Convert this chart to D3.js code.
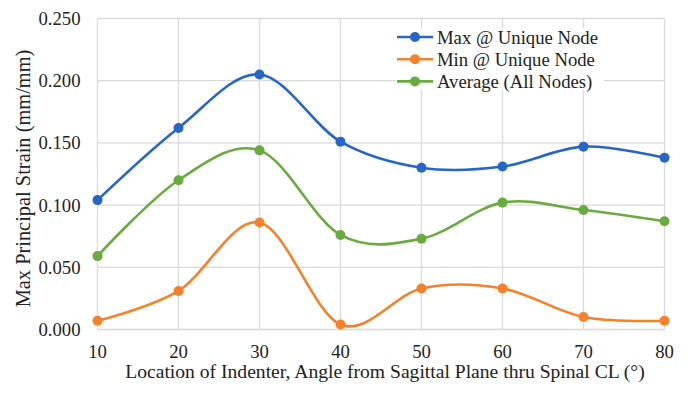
<!DOCTYPE html>
<html>
<head>
<meta charset="utf-8">
<script src="https://cdn.jsdelivr.net/npm/d3@7"></script>
<style>
  body { margin: 0; background: #fff; }
</style>
</head>
<body>
<div id="chart"></div>
<script>
// angle of indenter (deg)
const angles = [10, 20, 30, 40, 50, 60, 70, 80];
const maxNode = [0.104, 0.162, 0.205, 0.151, 0.130, 0.131, 0.147, 0.138];
const minNode = [0.007, 0.031, 0.086, 0.004, 0.033, 0.033, 0.010, 0.007];
const avgNodes = [0.059, 0.120, 0.144, 0.076, 0.073, 0.102, 0.096, 0.087];
const seriesNames = ['Max @ Unique Node', 'Min @ Unique Node', 'Average (All Nodes)'];
const yTicks = [0, 0.05, 0.1, 0.15, 0.2, 0.25];

const colors = ['#2566c7', '#f5822a', '#6aab3f'];
const W = 688, H = 393;
const margin = {top: 18.5, right: 23.5, bottom: 63.5, left: 97.5};
const FONT = "'Liberation Serif'";

const svg = d3.select('#chart').append('svg')
  .attr('width', W)
  .attr('height', H);

const x = d3.scaleLinear().domain([10, 80]).range([margin.left, W - margin.right]);
const y = d3.scaleLinear().domain([0, 0.25]).range([H - margin.bottom, margin.top]);

// grid
svg.append('g').selectAll('line.h')
  .data(yTicks)
  .enter().append('line')
  .attr('x1', margin.left).attr('x2', W - margin.right)
  .attr('y1', d => y(d)).attr('y2', d => y(d))
  .attr('stroke', '#d9d9d9').attr('stroke-width', 1.3);
svg.append('g').selectAll('line.v')
  .data(angles)
  .enter().append('line')
  .attr('y1', margin.top).attr('y2', H - margin.bottom)
  .attr('x1', d => x(d)).attr('x2', d => x(d))
  .attr('stroke', '#d9d9d9').attr('stroke-width', 1.3);

// tick labels
svg.append('g').selectAll('text')
  .data(yTicks)
  .enter().append('text')
  .attr('x', margin.left - 17)
  .attr('y', d => y(d))
  .attr('dy', '0.35em')
  .attr('text-anchor', 'end')
  .attr('font-family', FONT)
  .attr('font-size', 18.7)
  .attr('fill', '#222')
  .text(d => d3.format('.3f')(d));
svg.append('g').selectAll('text')
  .data(angles)
  .enter().append('text')
  .attr('x', d => x(d))
  .attr('y', H - margin.bottom + 28.5)
  .attr('text-anchor', 'middle')
  .attr('font-family', FONT)
  .attr('font-size', 18.7)
  .attr('fill', '#222')
  .text(d => d);

// axis titles
svg.append('text')
  .attr('x', 385)
  .attr('y', 378)
  .attr('text-anchor', 'middle')
  .attr('font-family', FONT)
  .attr('font-size', 19.6)
  .attr('fill', '#222')
  .text('Location of Indenter, Angle from Sagittal Plane thru Spinal CL (°)');
svg.append('text')
  .attr('transform', 'translate(' + 30 + ',' + 178.5 + ') rotate(-90)')
  .attr('text-anchor', 'middle')
  .attr('font-family', FONT)
  .attr('font-size', 20.4)
  .attr('fill', '#222')
  .text('Max Principal Strain (mm/mm)');

const line = d3.line()
  .x(d => x(d[0]))
  .y(d => y(d[1]))
  .curve(d3.curveCatmullRom.alpha(0));

const allSeries = [maxNode, minNode, avgNodes];
allSeries.forEach(function (vals, i) {
  const pts = angles.map((a, j) => [a, vals[j]]);
  svg.append('path')
    .datum(pts)
    .attr('fill', 'none')
    .attr('stroke', colors[i])
    .attr('stroke-width', 2.6)
    .attr('d', line);
  svg.append('g').selectAll('circle')
    .data(pts)
    .enter().append('circle')
    .attr('cx', d => x(d[0]))
    .attr('cy', d => y(d[1]))
    .attr('r', 5)
    .attr('fill', colors[i]);
});

// legend
const leg = svg.append('g').attr('transform', 'translate(396,28)');
leg.append('rect')
  .attr('width', 208).attr('height', 62)
  .attr('fill', '#fff');
seriesNames.forEach(function (name, i) {
  const g = leg.append('g').attr('transform', 'translate(0,' + (9 + i * 22.2) + ')');
  g.append('line')
    .attr('x1', 1).attr('x2', 37)
    .attr('stroke', colors[i]).attr('stroke-width', 2.6);
  g.append('circle').attr('cx', 19).attr('r', 5).attr('fill', colors[i]);
  g.append('text')
    .attr('x', 41).attr('dy', '0.35em')
    .attr('font-family', FONT)
    .attr('font-size', 18.7)
    .attr('fill', '#222')
    .text(name);
});
</script>
</body>
</html>
